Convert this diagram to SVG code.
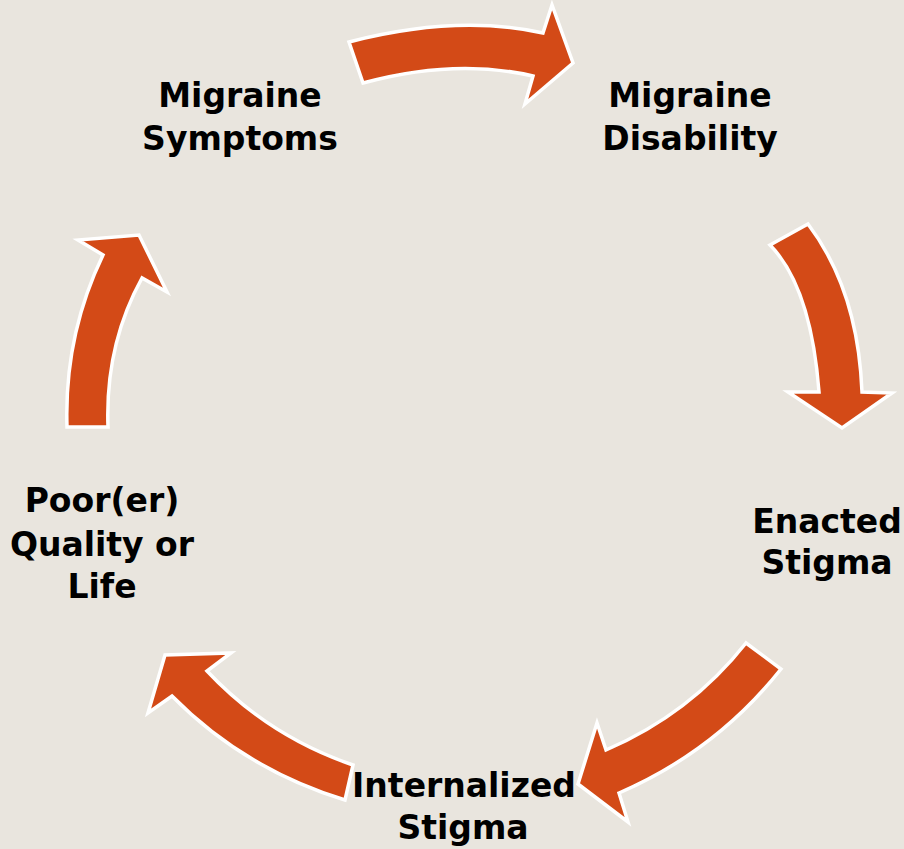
<svg xmlns="http://www.w3.org/2000/svg" width="904" height="849" viewBox="0 0 904 849">
<style>
.bg{fill:#E9E5DE}
.arrow{fill:#D34A17;stroke:#FFFFFF;stroke-width:3.5;stroke-linejoin:miter}
.lbl{font-family:"DejaVu Sans","Liberation Sans",sans-serif;font-weight:bold;font-size:33px;fill:#000000;text-anchor:middle}
</style>
<rect class="bg" x="0" y="0" width="904" height="849"/>
<g id="connectors">
<path id="arrow-symptoms-disability" class="arrow" d="M349,42 Q457,14 543,33 L552,5 L573,63 L525,104 L533,76 Q455,58 363,83 Z"/>
<path id="arrow-disability-enacted" class="arrow" d="M770,245 L808,224 Q858,290 862,392 L892,393 L842,428 L788,392 L819,392 Q811,287 770,245 Z"/>
<path id="arrow-enacted-internalized" class="arrow" d="M746,643 L781,669 Q716,751 619,793 L628,822 L578,784 L597,723 L606,750 Q690,714 746,643 Z"/>
<path id="arrow-internalized-quality" class="arrow" d="M353,765 L345,800 Q244,769 172,696 L148,713 L165,655 L231,653 L207,671 Q268,736 353,765 Z"/>
<path id="arrow-quality-symptoms" class="arrow" d="M67,427 L108,427 Q105,345 142,278 L167,292 L139,235 L78,240 L103,255 Q64,336 67,427 Z"/>
</g>
<g id="node-symptoms">
<text class="lbl" x="240" y="107">Migraine</text>
<text class="lbl" x="240" y="150">Symptoms</text>
</g>
<g id="node-disability">
<text class="lbl" x="690" y="107">Migraine</text>
<text class="lbl" x="690" y="150">Disability</text>
</g>
<g id="node-enacted">
<text class="lbl" x="827" y="533">Enacted</text>
<text class="lbl" x="827" y="574">Stigma</text>
</g>
<g id="node-internalized">
<text class="lbl" x="464" y="797">Internalized</text>
<text class="lbl" x="463" y="839">Stigma</text>
</g>
<g id="node-quality">
<text class="lbl" x="102" y="512">Poor(er)</text>
<text class="lbl" x="102" y="556">Quality or</text>
<text class="lbl" x="102" y="598">Life</text>
</g>
</svg>
